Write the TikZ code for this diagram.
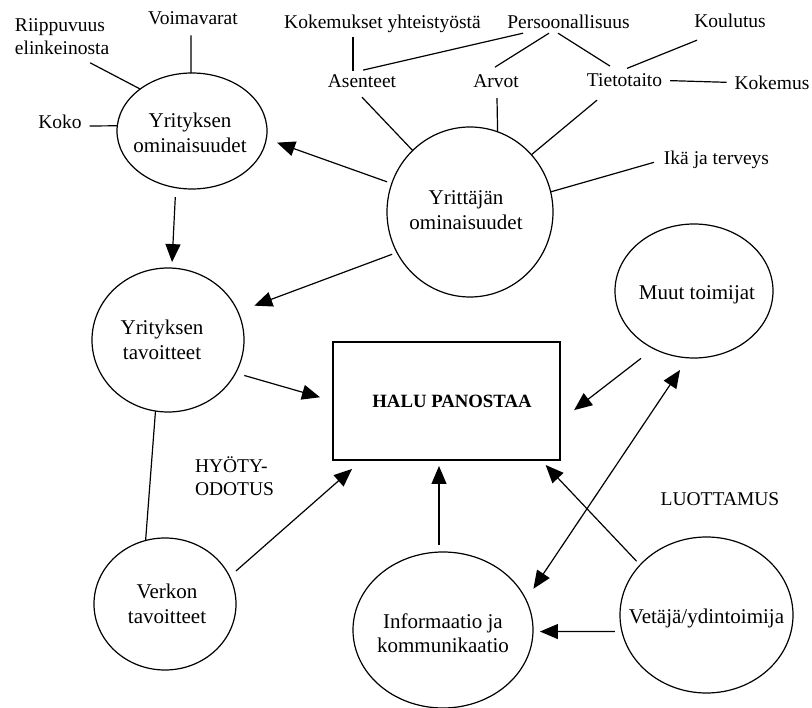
\documentclass[tikz,border=0pt]{standalone}
\usepackage{fontspec}
\setmainfont{Liberation Serif}
\usetikzlibrary{shapes.geometric,arrows.meta,calc}
\begin{document}
\begin{tikzpicture}[x=1pt,y=-1pt,
  ell/.style={draw, ellipse, line width=1.2pt, inner sep=0pt, outer sep=0pt},
  box/.style={draw, rectangle, line width=1.2pt, inner sep=0pt, outer sep=0pt},
  intext/.style={font=\fontsize{21}{24.5}\selectfont, align=center, inner sep=0pt},
  boldtext/.style={font=\bfseries\fontsize{18.75}{22}\selectfont, inner sep=0pt},
  lab/.style={font=\fontsize{19.5}{23}\selectfont, inner sep=0pt, outer sep=0pt},
  ln/.style={line width=1.2pt},
  arr/.style={line width=1.2pt, -{Triangle[length=18pt,width=15pt]}},
  dbl/.style={line width=1.2pt, {Triangle[length=18pt,width=15pt]}-{Triangle[length=18pt,width=15pt]}}
]
\fill[white] (0,0) rectangle (812,708);
\useasboundingbox (0,0) rectangle (812,708);

% main nodes
\node[ell, minimum width=150pt, minimum height=116pt,
  label={[intext, xshift=-2pt, yshift=-2pt]center:{Yrityksen\\ominaisuudet}}] (A) at (192,131) {};
\node[ell, minimum width=166pt, minimum height=170pt,
  label={[intext, xshift=-4pt, yshift=2pt]center:{Yrittäjän\\ominaisuudet}}] (B) at (470,212) {};
\node[ell, minimum width=152pt, minimum height=144pt,
  label={[intext, xshift=-6pt]center:{Yrityksen\\tavoitteet}}] (C) at (168,340) {};
\node[ell, minimum width=158pt, minimum height=134pt,
  label={[intext, xshift=3pt, yshift=-4pt]center:{Muut toimijat}}] (D) at (694,291) {};
\node[ell, minimum width=142pt, minimum height=132pt,
  label={[intext, xshift=2pt]center:{Verkon\\tavoitteet}}] (E) at (165,604) {};
\node[ell, minimum width=180pt, minimum height=156pt,
  label={[intext, yshift=-3pt]center:{Informaatio ja\\kommunikaatio}}] (F) at (443,630) {};
\node[ell, minimum width=173pt, minimum height=156pt,
  label={[intext, yshift=-3pt]center:{Vetäjä/ydintoimija}}] (G) at (706.5,615) {};
\node[box, minimum width=227pt, minimum height=118pt,
  label={[boldtext, xshift=5.5pt]center:{HALU PANOSTAA}}] (R) at (446.5,401) {};

% outer labels
\node[lab, anchor=base] (voima) at (193,25) {Voimavarat};
\node[lab, anchor=north west, align=left] (riip) at (15,18.7) {Riippuvuus\\elinkeinosta};
\node[lab, anchor=base] (koko) at (60,129) {Koko};
\node[lab, anchor=base] (koky) at (382.5,29) {Kokemukset yhteistyöstä};
\node[lab, anchor=base] (pers) at (568.5,29) {Persoonallisuus};
\node[lab, anchor=base] (koul) at (730,28) {Koulutus};
\node[lab, anchor=base] (asent) at (362,88) {Asenteet};
\node[lab, anchor=base] (arvot) at (496,88) {Arvot};
\node[lab, anchor=base] (tieto) at (624.5,87) {Tietotaito};
\node[lab, anchor=base] (kokem) at (772,90) {Kokemus};
\node[lab, anchor=base] (ika) at (716.5,165) {Ikä ja terveys};
\node[lab, anchor=north west, align=left] (hyoty) at (195,456.5) {HYÖTY-\\ODOTUS};
\node[lab, anchor=base] (luot) at (720,506) {LUOTTAMUS};

% plain lines around A
\draw[ln] ($(voima.south)+(-2,10)$) -- (A.91);
\draw[ln] ($(riip.south)+(28,8)$) -- (A.141.6);
\draw[ln] ($(koko.base east)+(8,-3)$) -- (A.176);

% plain lines around B
\draw[ln] ($(koky.south)+(-29.5,3.7)$) -- ($(asent.north)+(-9,-4)$);
\draw[ln] ($(pers.south)+(-45.5,4)$) -- ($(asent.north)+(1,-5)$);
\draw[ln] ($(pers.south)+(-19.5,4)$) -- ($(arvot.north)+(-1,-8)$);
\draw[ln] ($(pers.south)+(-10.5,4)$) -- ($(tieto.north)+(-14.5,-8)$);
\draw[ln] ($(koul.south)+(-33,12)$) -- ($(tieto.north)+(2.5,-5.7)$);
\draw[ln] ($(tieto.east)+(8,0)$) -- ($(kokem.west)+(-8,-1)$);
\draw[ln] ($(asent.south)+(0,9)$) -- (B.133.2);
\draw[ln] ($(arvot.south)+(1,10)$) -- (B.71.8);
\draw[ln] ($(tieto.south)+(-27.5,13)$) -- (B.43.6);
\draw[ln] ($(ika.west)+(-10,2)$) -- (B.14);

% C - E
\draw[ln] (C.-100) -- (E.107);

% arrows
\draw[arr, shorten <=5pt, shorten >=11.4pt] (B.160.1) -- (A.-6.3);
\draw[arr, shorten <=9.5pt, shorten >=6pt] (A.-106.4) -- (C.87.1);
\draw[arr, shorten <=5.2pt, shorten >=17.5pt] (B.-151.2) -- (C.22.5);
\draw[arr, shorten <=9.1pt, shorten >=13.5pt] (C.-26.6) -- (R.180);
\draw[arr, shorten <=8.5pt, shorten >=13.6pt] (E.23) -- (R.-145);
\draw[arr, shorten <=7pt, shorten >=6pt] ([xshift=-4pt]F.north) -- ([xshift=-7.5pt]R.south);
\draw[arr, shorten <=5.1pt, shorten >=6.9pt] (G.143.7) -- (R.-32.2);
\draw[arr, shorten <=16pt, shorten >=17.8pt] (D.-125.9) -- (R.-10);
\draw[dbl, shorten <=13.3pt, shorten >=14.6pt] (F.20.6) -- (D.-95);
\draw[arr, shorten <=7pt, shorten >=7pt] (G.191.4) -- (F.-1.3);
\end{tikzpicture}
\end{document}
